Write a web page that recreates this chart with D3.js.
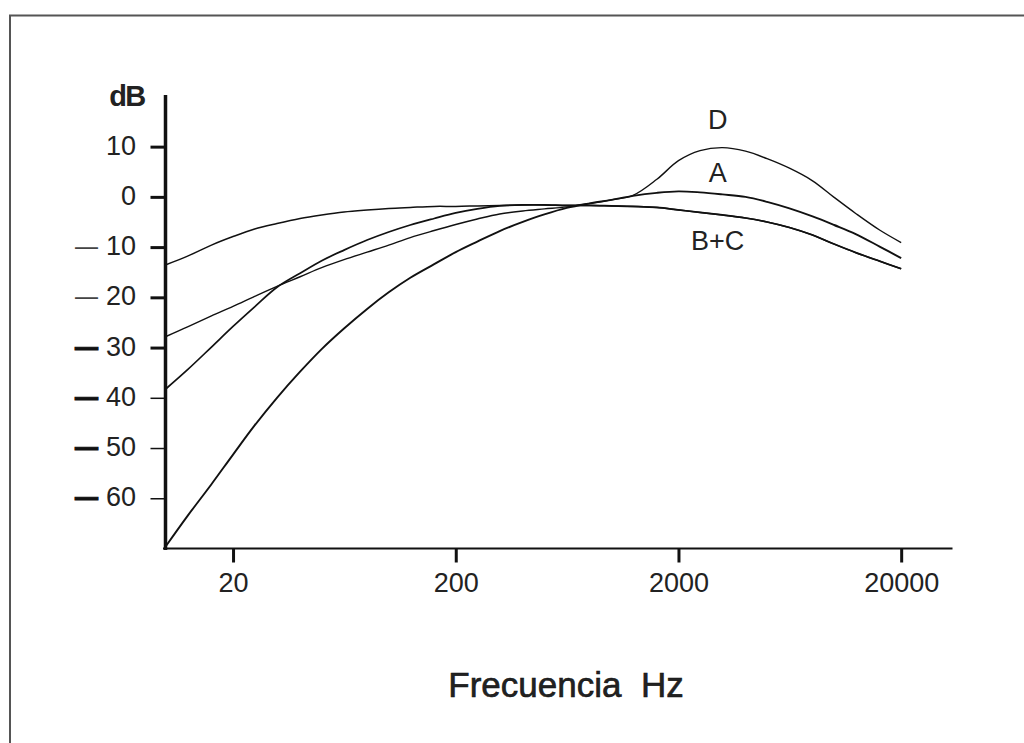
<!DOCTYPE html>
<html>
<head>
<meta charset="utf-8">
<script src="https://cdn.jsdelivr.net/npm/d3@7"></script>
<style>
  html, body { margin: 0; padding: 0; background: #fff; }
  svg { display: block; }
  text { font-family: "Liberation Sans", Arial, sans-serif; fill: #222; }
</style>
</head>
<body>
<svg id="chart" width="1024" height="743"></svg>
<script>
// Frequencies (Hz)
const freqs = [10, 12.5, 16, 20, 25, 31.5, 40, 50, 63, 80, 100, 125, 160, 200, 250, 315, 400, 500, 630, 800,
               1000, 1250, 1600, 2000, 2500, 3150, 4000, 5000, 6300, 8000, 10000, 12500, 16000, 20000];
// Weighting curves (dB)
const curveA = [-69.5, -63.5, -57.2, -51.3, -45.5, -40.0, -34.8, -30.3, -26.2, -22.3, -19.0, -16.1, -13.4, -11.0, -8.9, -6.8, -5.0, -3.5, -2.2, -1.3,
                -0.6, 0.2, 0.8, 1.1, 0.9, 0.5, 0.0, -1.0, -2.3, -3.9, -5.6, -7.4, -9.9, -12.2];
const curveB = [-38.2, -34.4, -29.9, -25.8, -21.9, -18.0, -15.2, -12.7, -10.6, -8.6, -7.0, -5.6, -4.3, -3.2, -2.4, -1.8, -1.6, -1.6, -1.7, -1.7,
                -1.8, -1.9, -2.1, -2.6, -3.1, -3.6, -4.2, -5.0, -6.1, -7.6, -9.4, -11.1, -12.8, -14.3];
const curveC = [-13.5, -11.8, -9.6, -7.9, -6.4, -5.3, -4.3, -3.6, -3.0, -2.6, -2.3, -2.1, -1.9, -1.9, -1.8, -1.7, -1.6, -1.6, -1.7, -1.7,
                -1.8, -1.9, -2.1, -2.6, -3.1, -3.6, -4.2, -5.0, -6.1, -7.6, -9.4, -11.1, -12.8, -14.3];
const curveD = [-27.8, -25.9, -23.7, -21.8, -19.8, -17.8, -15.9, -14.1, -12.5, -11.0, -9.6, -8.1, -6.7, -5.5, -4.4, -3.4, -2.8, -2.4, -2.0, -1.3,
                -0.6, 0.3, 3.5, 7.2, 9.2, 9.8, 9.1, 7.6, 5.7, 3.2, -0.1, -3.3, -6.6, -9.1];
const seriesNames = ["A", "B", "C", "D"];

// Axis ticks and labels
const xTicks = [20, 200, 2000, 20000];
const xTickLabels = ["20", "200", "2000", "20000"];
const yTicks = [10, 0, -10, -20, -30, -40, -50, -60];
const yTickNumbers = ["10", "0", "10", "20", "30", "40", "50", "60"];
const yTickDash = ["", "", "thin", "thin", "thick", "thick", "thick", "thick"];
const yTickThick = [true, true, true, true, true, false, false, false];

const curveLabels = ["D", "A", "B+C"];
const curveLabelFreq = [3000, 3000, 3000];
const curveLabelDb = [15.6, 4.9, -8.5];

const yAxisTitle = "dB";
const xAxisTitle = "Frecuencia  Hz";

const svg = d3.select("#chart");

// outer frame (extends beyond the canvas at right and bottom)
svg.append("rect")
  .attr("x", 10).attr("y", 15.5)
  .attr("width", 1100).attr("height", 800)
  .attr("fill", "none").attr("stroke", "#555").attr("stroke-width", 2);

const x = d3.scaleLog().domain([10, 34000]).range([166, 952.5]);
const y = d3.scaleLinear().domain([-70, 20]).range([548.5, 96.4]);

// x axis
const xAxis = d3.axisBottom(x).tickValues(xTicks).tickFormat((d, i) => xTickLabels[i])
  .tickSizeInner(14).tickSizeOuter(0).tickPadding(10);
const gx = svg.append("g").attr("transform", "translate(0,548.5)").call(xAxis);
gx.select(".domain").attr("stroke", "#111").attr("stroke-width", 2)
  .attr("d", `M163,0H${x.range()[1]}`);
gx.selectAll(".tick line").attr("stroke", "#111").attr("stroke-width", 3);
gx.selectAll(".tick text").attr("font-size", 27).attr("fill", "#222")
  .style("font-family", "'Liberation Sans', Arial, sans-serif").attr("dy", "0.71em");

// y axis
const yAxis = d3.axisLeft(y).tickValues(yTicks).tickFormat(() => "")
  .tickSizeInner(15).tickSizeOuter(0);
const gy = svg.append("g").attr("transform", "translate(165.5,0)").call(yAxis);
gy.select(".domain").attr("stroke", "#111").attr("stroke-width", 3.5)
  .attr("d", `M0,95V550`);
gy.selectAll(".tick line").attr("stroke", "#111")
  .attr("stroke-width", (d, i) => yTickThick[i] ? 3 : 1.5);
gy.selectAll(".tick text").remove();

// y tick labels with separate long dash for negatives
const ylab = svg.append("g");
yTicks.forEach((v, i) => {
  const t = ylab.append("text")
    .attr("font-size", 27)
    .attr("y", y(v) + 8);
  if (yTickDash[i]) {
    t.append("tspan")
      .attr("x", 75).attr("text-anchor", "start")
      .attr("textLength", 23).attr("lengthAdjust", "spacingAndGlyphs")
      .attr("font-weight", yTickDash[i] === "thick" ? "bold" : "normal")
      .attr("stroke", yTickDash[i] === "thick" ? "#111" : "none")
      .attr("stroke-width", yTickDash[i] === "thick" ? 1.2 : 0)
      .attr("fill", yTickDash[i] === "thick" ? "#111" : "#444")
      .text("—");
  }
  t.append("tspan")
    .attr("x", 136).attr("text-anchor", "end")
    .text(yTickNumbers[i]);
});

// y title
svg.append("text")
  .attr("x", 127).attr("y", 106)
  .attr("text-anchor", "middle")
  .attr("font-size", 29).attr("font-weight", "bold")
  .attr("letter-spacing", -1.5)
  .attr("fill", "#111")
  .text(yAxisTitle);

// x title
svg.append("text")
  .attr("x", 566).attr("y", 697)
  .attr("text-anchor", "middle")
  .attr("font-size", 35)
  .attr("fill", "#111")
  .attr("stroke", "#111").attr("stroke-width", 0.6)
  .style("white-space", "pre")
  .attr("xml:space", "preserve")
  .text(xAxisTitle);

// curves
const line = d3.line()
  .x(d => x(d[0]))
  .y(d => y(d[1]))
  .curve(d3.curveCatmullRom.alpha(0.5));

const seriesData = [curveA, curveB, curveC, curveD];
const widths = [1.9, 1.7, 1.5, 1.4];
seriesData.forEach((vals, si) => {
  svg.append("path")
    .datum(freqs.map((f, i) => [f, vals[i]]))
    .attr("fill", "none")
    .attr("stroke", "#111")
    .attr("stroke-width", widths[si])
    .attr("d", line);
});

// curve labels
curveLabels.forEach((lab, i) => {
  svg.append("text")
    .attr("x", x(curveLabelFreq[i]))
    .attr("y", y(curveLabelDb[i]) + 10)
    .attr("text-anchor", "middle")
    .attr("font-size", 27)
    .attr("fill", "#222")
    .text(lab);
});
</script>
</body>
</html>
